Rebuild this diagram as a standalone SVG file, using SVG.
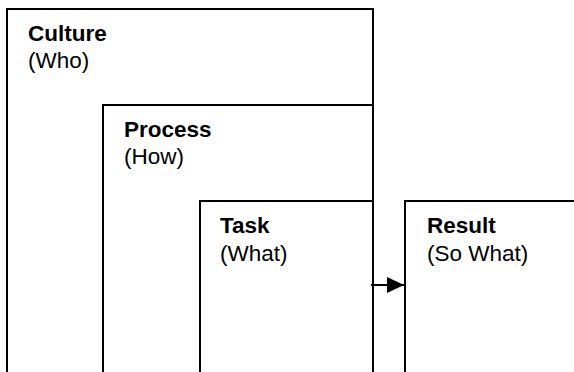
<svg xmlns="http://www.w3.org/2000/svg" width="574" height="372" viewBox="0 0 574 372">
  <style>
    .box { fill: none; stroke: #000; stroke-width: 2; }
    .title { font-family: "Liberation Sans", Arial, sans-serif; font-size: 22.5px; font-weight: bold; fill: #000; }
    .sub { font-family: "Liberation Sans", Arial, sans-serif; font-size: 22.5px; fill: #000; }
    .conn { stroke: #000; stroke-width: 2; fill: none; }
  </style>
  <defs>
    <marker id="arrow" markerUnits="userSpaceOnUse" markerWidth="17" markerHeight="16" refX="17" refY="8" orient="auto">
      <path d="M0,0 L17,8 L0,16 Z" fill="#000"/>
    </marker>
  </defs>
  <rect width="574" height="372" fill="#fff"/>
  <g id="culture">
    <path class="box" d="M7,373 V9 H373 V373"/>
    <text class="title" x="28" y="41">Culture</text>
    <text class="sub" x="28" y="68">(Who)</text>
  </g>
  <g id="process">
    <path class="box" d="M103,373 V105 H373"/>
    <text class="title" x="124" y="137">Process</text>
    <text class="sub" x="124" y="164">(How)</text>
  </g>
  <g id="task">
    <path class="box" d="M200,373 V201 H373"/>
    <text class="title" x="220" y="233">Task</text>
    <text class="sub" x="220" y="261">(What)</text>
  </g>
  <g id="result">
    <path class="box" d="M405,373 V201 H575"/>
    <text class="title" x="427" y="233">Result</text>
    <text class="sub" x="427" y="261">(So What)</text>
  </g>
  <g id="connectors">
    <line class="conn" x1="371" y1="285" x2="404" y2="285" marker-end="url(#arrow)"/>
  </g>
</svg>
